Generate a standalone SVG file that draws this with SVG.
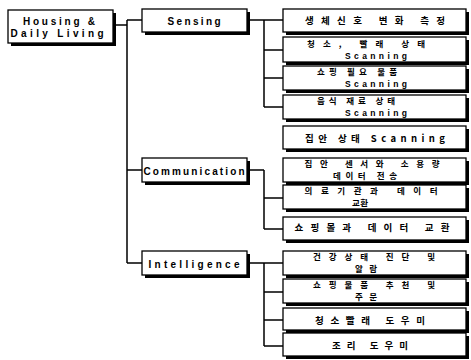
<svg xmlns="http://www.w3.org/2000/svg" width="471" height="360" viewBox="0 0 471 360">
<style>
.bx{fill:#fff;stroke:#000;stroke-width:1.3}
.sh{fill:#000}
.t{font-family:"Liberation Sans","Noto Sans CJK KR",sans-serif;font-weight:bold;font-size:10px;fill:#000;text-anchor:middle}
.k{font-family:"Noto Sans CJK KR","Liberation Sans",sans-serif;font-weight:bold;font-size:9.5px;fill:#000;text-anchor:middle}
.s{font-size:8.5px}
.c{fill:none;stroke:#000;stroke-width:1.5}
</style>
<rect width="471" height="360" fill="#fff"/>
<g id="connectors" class="c">
<path d="M116 25H127M127 20V263M127 20H142M127 170H142M127 263H142"/>
<path d="M250 20H264M264 20V107M264 20H283M264 50H283M264 78H283M264 107H283"/>
<path d="M250 170H264M264 170V229M264 198H283M264 229H283"/>
<path d="M250 263H264M264 263V346M264 263H283M264 292H283M264 320H283M264 346H283"/>
</g>
<g id="housing"><rect class="sh" x="11" y="13" width="105" height="33"/><rect class="bx" x="8" y="10" width="105" height="33"/>
<text class="t" x="59" y="25" textLength="72" lengthAdjust="spacing">Housing &amp;</text>
<text class="t" x="57" y="37" textLength="93" lengthAdjust="spacing">Daily Living</text></g>
<g id="sensing"><rect class="sh" x="145" y="12" width="105" height="23"/><rect class="bx" x="142" y="9" width="105" height="23"/>
<text class="t" x="194" y="25" textLength="53" lengthAdjust="spacing">Sensing</text></g>
<g id="communication"><rect class="sh" x="145" y="161" width="105" height="24"/><rect class="bx" x="142" y="158" width="105" height="24"/>
<text class="t" x="194" y="175" textLength="101" lengthAdjust="spacing">Communication</text></g>
<g id="intelligence"><rect class="sh" x="145" y="254" width="105" height="24"/><rect class="bx" x="142" y="251" width="105" height="24"/>
<text class="t" x="194" y="268" textLength="91" lengthAdjust="spacing">Intelligence</text></g>

<g id="s1"><rect class="sh" x="286" y="12" width="183" height="23"/><rect class="bx" x="283" y="9" width="183" height="23"/>
<text class="k" x="375" y="24" textLength="140" lengthAdjust="spacing">생체신호 변화 측정</text></g>
<g id="s2"><rect class="sh" x="286" y="40" width="183" height="25"/><rect class="bx" x="283" y="37" width="183" height="25"/>
<text class="k s" x="366" y="47" textLength="118" lengthAdjust="spacing">청소, 빨래 상태</text>
<text class="t s" x="376" y="59" textLength="62" lengthAdjust="spacing">Scanning</text></g>
<g id="s3"><rect class="sh" x="286" y="69" width="183" height="24"/><rect class="bx" x="283" y="66" width="183" height="24"/>
<text class="k s" x="357" y="75" textLength="80" lengthAdjust="spacing">쇼핑 필요 물품</text>
<text class="t s" x="376" y="87" textLength="62" lengthAdjust="spacing">Scanning</text></g>
<g id="s4"><rect class="sh" x="286" y="98" width="183" height="24"/><rect class="bx" x="283" y="95" width="183" height="24"/>
<text class="k s" x="356" y="104" textLength="78" lengthAdjust="spacing">음식 재료 상태</text>
<text class="t s" x="376" y="116" textLength="62" lengthAdjust="spacing">Scanning</text></g>
<g id="s5"><rect class="sh" x="286" y="129" width="183" height="23"/><rect class="bx" x="283" y="126" width="183" height="23"/>
<text class="k" x="375" y="142" textLength="140" lengthAdjust="spacing">집안 상태 Scanning</text></g>

<g id="c1"><rect class="sh" x="286" y="161" width="183" height="24"/><rect class="bx" x="283" y="158" width="183" height="24"/>
<text class="k s" x="372" y="167" textLength="135" lengthAdjust="spacing">집안 센서와 소용량</text>
<text class="k s" x="365" y="179" textLength="64" lengthAdjust="spacing">데이터 전송</text></g>
<g id="c2"><rect class="sh" x="286" y="188" width="183" height="24"/><rect class="bx" x="283" y="185" width="183" height="24"/>
<text class="k s" x="371" y="194" textLength="133" lengthAdjust="spacing">의료기관과 데이터</text>
<text class="k s" x="360" y="206" textLength="16" lengthAdjust="spacing">교환</text></g>
<g id="c3"><rect class="sh" x="286" y="220" width="183" height="23"/><rect class="bx" x="283" y="217" width="183" height="23"/>
<text class="k" x="372" y="231" textLength="155" lengthAdjust="spacing">쇼핑몰과 데이터 교환</text></g>

<g id="i1"><rect class="sh" x="286" y="254" width="183" height="24"/><rect class="bx" x="283" y="251" width="183" height="24"/>
<text class="k s" x="374" y="260" textLength="122" lengthAdjust="spacing">건강상태 진단 및</text>
<text class="k s" x="366" y="272" textLength="22" lengthAdjust="spacing">알람</text></g>
<g id="i2"><rect class="sh" x="286" y="282" width="183" height="24"/><rect class="bx" x="283" y="279" width="183" height="24"/>
<text class="k s" x="374" y="288" textLength="122" lengthAdjust="spacing">쇼핑물품 추천 및</text>
<text class="k s" x="366" y="300" textLength="22" lengthAdjust="spacing">주문</text></g>
<g id="i3"><rect class="sh" x="286" y="311" width="183" height="22"/><rect class="bx" x="283" y="308" width="183" height="22"/>
<text class="k" x="370" y="324" textLength="110" lengthAdjust="spacing">청소빨래 도우미</text></g>
<g id="i4"><rect class="sh" x="286" y="336" width="183" height="23"/><rect class="bx" x="283" y="333" width="183" height="23"/>
<text class="k" x="370" y="349" textLength="76" lengthAdjust="spacing">조리 도우미</text></g>
</svg>
